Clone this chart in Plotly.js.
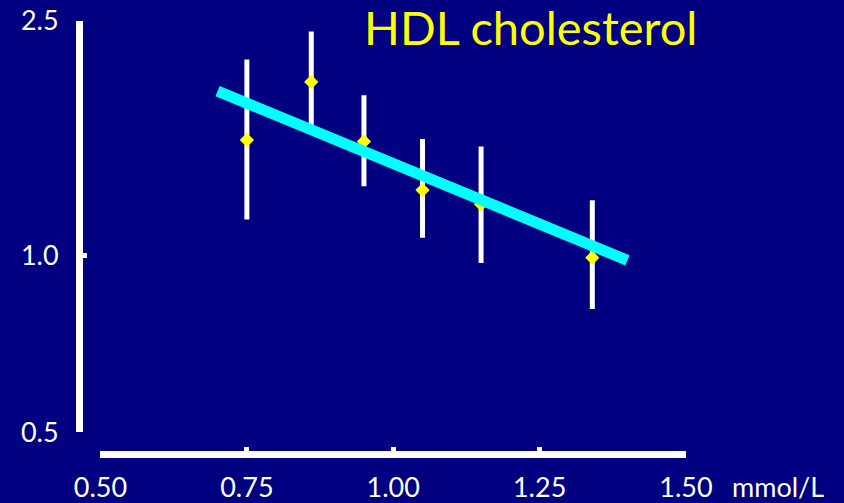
<!DOCTYPE html>
<html>
<head>
<meta charset="utf-8">
<script src="https://cdn.plot.ly/plotly-3.0.1.min.js"></script>
<style>
  html, body { margin: 0; padding: 0; background: #000080; }
  #chart { width: 844px; height: 503px; }
</style>
</head>
<body>
<div id="chart"></div>
<script>
// HDL cholesterol (mmol/L) group means and relative risk with 95% CI
const hdl      = [0.75, 0.86, 0.95, 1.05, 1.15, 1.34];
const risk     = [1.57, 1.97, 1.56, 1.29, 1.22, 0.99];
const ciUpper  = [2.15, 2.40, 1.87, 1.575, 1.53, 1.24];
const ciLower  = [1.15, 1.63, 1.31, 1.07, 0.97, 0.81];

// fitted trend line
const trendX = [0.70, 1.40];
const trendY = [1.90, 0.98];

const xTicks = [0.5, 0.75, 1.0, 1.25, 1.5];
const xTickText = ['0.50', '0.75', '1.00', '1.25', '1.50'];
const yTicks = [0.5, 1.0, 2.5];
const yTickText = ['0.5', '1.0', '2.5'];

const errPlus = ciUpper.map((u, i) => u - risk[i]);
const errMinus = risk.map((r, i) => r - ciLower[i]);

const FONT = 'Lato, "Open Sans", sans-serif';
const tickFont = { family: FONT, size: 27, color: '#ffffff' };

const traces = [
  {
    x: hdl, y: risk, type: 'scatter', mode: 'markers',
    marker: { symbol: 'diamond', size: 11, color: '#ffff00', line: { width: 0 } },
    error_y: { type: 'data', symmetric: false, array: errPlus, arrayminus: errMinus,
               color: '#ffffff', thickness: 5, width: 0 },
    cliponaxis: false, hoverinfo: 'skip'
  },
  {
    x: trendX, y: trendY, type: 'scatter', mode: 'lines',
    line: { color: '#00ffff', width: 11 },
    cliponaxis: false, hoverinfo: 'skip'
  }
];

const layout = {
  width: 844, height: 503,
  paper_bgcolor: '#000080', plot_bgcolor: '#000080',
  showlegend: false,
  margin: { l: 78.5, r: 157.5, t: 21, b: 49.3 },
  title: {
    text: 'HDL cholesterol',
    font: { family: FONT, size: 47, color: '#ffff00' },
    xref: 'container', yref: 'container',
    x: 364 / 844, xanchor: 'left',
    y: 1 - 29 / 503, yanchor: 'middle'
  },
  xaxis: {
    range: [0.5, 1.5], domain: [0.0354, 1],
    anchor: 'free', position: 0,
    tickvals: xTicks, ticktext: xTickText, tickfont: tickFont,
    ticklabelstandoff: 7,
    ticks: 'inside', ticklen: 4, tickwidth: 5, tickcolor: '#ffffff',
    showline: true, linecolor: '#ffffff', linewidth: 7,
    showgrid: false, zeroline: false, fixedrange: true
  },
  yaxis: {
    type: 'log', range: [Math.log10(0.5), Math.log10(2.5)], domain: [0.0502, 1],
    anchor: 'free', position: 0,
    tickvals: yTicks, ticktext: yTickText, tickfont: tickFont,
    ticklabelstandoff: 12,
    ticks: 'inside', ticklen: 4, tickwidth: 5, tickcolor: '#ffffff',
    showline: true, linecolor: '#ffffff', linewidth: 7,
    showgrid: false, zeroline: false, fixedrange: true
  },
  annotations: [
    {
      text: 'mmol/L', xref: 'paper', yref: 'paper',
      x: 1, xanchor: 'left', xshift: 44,
      y: 0, yanchor: 'middle', yshift: -32,
      showarrow: false,
      font: tickFont
    }
  ]
};

Plotly.newPlot('chart', traces, layout, { staticPlot: true, displayModeBar: false });
</script>
</body>
</html>
